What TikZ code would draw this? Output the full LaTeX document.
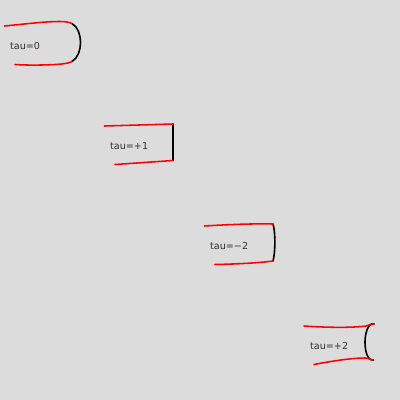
\documentclass[tikz,border=0pt]{standalone}
\usepackage{fontspec}
\setmainfont{DejaVu Sans}
\definecolor{bgc}{HTML}{DCDCDC}
\definecolor{txtc}{HTML}{303030}
\tikzset{
  redline/.style={draw=red,line width=1.55pt,line cap=round},
  blackline/.style={draw=black,line width=1.6pt,line cap=round},
  taulabel/.style={anchor=base west,inner sep=0pt,text=txtc,font=\fontsize{9.6}{11}\selectfont}
}
\begin{document}
\begin{tikzpicture}[x=1pt,y=-1pt]
\useasboundingbox (0,0) rectangle (400,400);
\fill[bgc] (0,0) rectangle (400,400);
% panel 1
\draw[blackline] (72,23.5) .. controls (78,27) and (80.5,35) .. (80.5,42.5) .. controls (80.5,50) and (78,58) .. (72,61.5);
\draw[redline] (4.5,26) .. controls (25,24) and (45,21.5) .. (60,21.5) .. controls (65,21.5) and (69,22) .. (72,23.5);
\draw[redline] (15,64.5) .. controls (30,65.5) and (45,65) .. (55,64.5) .. controls (63,64) and (68,63.5) .. (72,61.5);
\node[taulabel] (t0) at (10,49.5) {tau=0};
% panel 2
\draw[blackline] (173,124) -- (173,160.5);
\draw[redline] (104.5,126) -- (173,124);
\draw[redline] (115,164.5) -- (173,160.5);
\node[taulabel] (t1) at (110,149.5) {tau=+1};
% panel 3
\draw[blackline] (273,224) .. controls (275.5,232) and (275.5,252) .. (273,261);
\draw[redline] (204.5,226) .. controls (228,224.5) and (255,223.5) .. (273,224);
\draw[redline] (215,264.5) .. controls (238,264) and (258,263) .. (273,261);
\node[taulabel] (t2) at (210,249.5) {tau=−2};
% panel 4
\draw[blackline] (374,324) .. controls (368,322) and (365,334) .. (365,342) .. controls (365,350) and (367,361) .. (373.5,360);
\draw[redline] (304,326) .. controls (325,327.5) and (352,328) .. (366,326) .. controls (369,325.5) and (372,323.5) .. (374,324);
\draw[redline] (314,364.5) .. controls (332,361) and (352,358) .. (365,358) .. controls (369,358) and (371,360) .. (373.5,360);
\node[taulabel] (t3) at (310,349.5) {tau=+2};
\end{tikzpicture}
\end{document}
